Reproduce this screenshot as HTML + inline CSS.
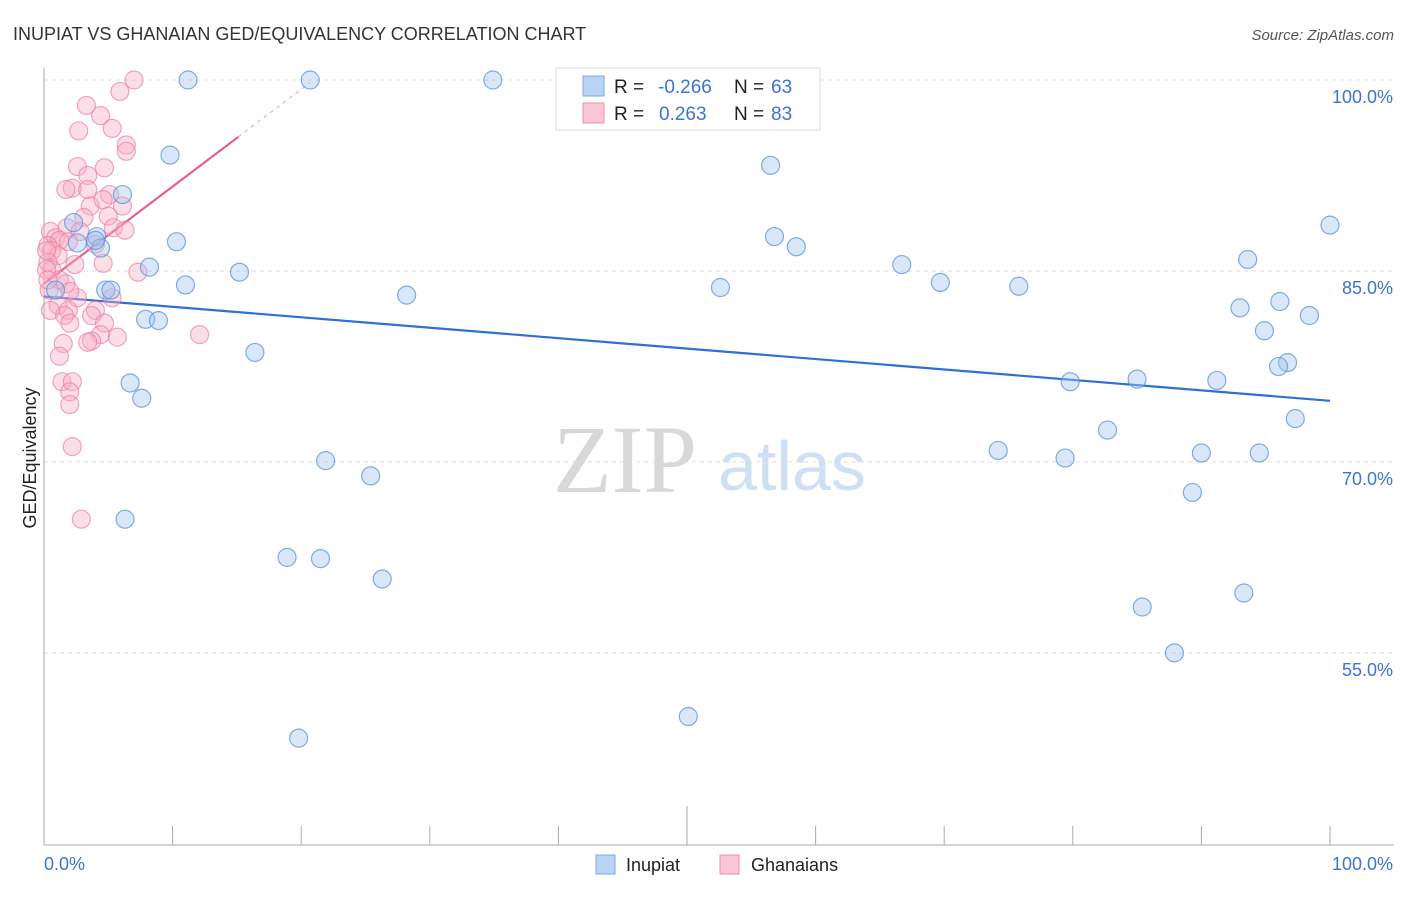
<!DOCTYPE html>
<html><head><meta charset="utf-8"><style>
body{margin:0;background:#fff;font-family:"Liberation Sans",sans-serif}
svg text{font-family:"Liberation Sans",sans-serif}
</style></head><body>
<svg id="chart" width="1406" height="892" viewBox="0 0 1406 892" xmlns="http://www.w3.org/2000/svg">
<text x="13" y="40" font-size="18" fill="#333">INUPIAT VS GHANAIAN GED/EQUIVALENCY CORRELATION CHART</text>
<text x="1394" y="40" font-size="15" fill="#555" font-style="italic" text-anchor="end">Source: ZipAtlas.com</text>
<g>
<text x="553" y="492" font-size="96" fill="#d8d8d8" style="font-family:'Liberation Serif',serif">ZIP</text>
<text x="718" y="490" font-size="70" fill="#cfe0f5">atlas</text>
</g>
<g id="grid"></g>
<g id="axes"></g>
<text x="36" y="458" font-size="18" fill="#222" transform="rotate(-90 36 458)" text-anchor="middle">GED/Equivalency</text>
<g id="trend"></g>
<g id="points"></g>
<g>
<rect x="556" y="68" width="264" height="62" fill="#fff" stroke="#ddd"/>
<rect x="583" y="76" width="21" height="20" fill="#b9d3f5" stroke="#7aa8e6"/>
<text x="614" y="93" font-size="19" fill="#222">R = </text>
<text x="658" y="93" font-size="19" fill="#3b74d4">-0.266</text>
<text x="734" y="93" font-size="19" fill="#222">N = </text>
<text x="771" y="93" font-size="19" fill="#3b74d4">63</text>
<rect x="583" y="103" width="21" height="20" fill="#f9c6d5" stroke="#ee8fae"/>
<text x="614" y="120" font-size="19" fill="#222">R = </text>
<text x="659" y="120" font-size="19" fill="#3b74d4">0.263</text>
<text x="734" y="120" font-size="19" fill="#222">N = </text>
<text x="771" y="120" font-size="19" fill="#3b74d4">83</text>
</g>
<g>
<rect x="596" y="855" width="19" height="19" fill="#b9d3f5" stroke="#7aa8e6"/>
<text x="626" y="871" font-size="18" fill="#222">Inupiat</text>
<rect x="720" y="855" width="19" height="19" fill="#f9c6d5" stroke="#ee8fae"/>
<text x="751" y="871" font-size="18" fill="#222">Ghanaians</text>
</g>
</svg>
<script>
const yTicks=[100,85,70,55];
const yTickLabels=["100.0%","85.0%","70.0%","55.0%"];
const xTickLabels=["0.0%","100.0%"];
const inupiatX=[11.2,20.7,34.9,47.1,9.8,56.5,6.1,2.3,4.1,4.4,2.6,10.3,56.8,58.5,8.2,15.2,66.7,93.6,100,11.0,4.8,5.2,52.6,69.7,75.8,28.2,7.9,8.9,93.0,96.1,98.4,94.9,16.4,96.7,96.0,6.7,7.6,79.8,85.0,91.2,97.3,82.7,21.9,25.4,74.2,79.4,90.0,94.5,89.3,6.3,18.9,21.5,26.3,85.4,93.3,87.9,50.1,19.8,0.9,4.0];
const inupiatY=[100,100,100,100,94.1,93.3,91.0,88.8,87.7,86.8,87.2,87.3,87.7,86.9,85.3,84.9,85.5,85.9,88.6,83.9,83.5,83.5,83.7,84.1,83.8,83.1,81.2,81.1,82.1,82.6,81.5,80.3,78.6,77.8,77.5,76.2,75.0,76.3,76.5,76.4,73.4,72.5,70.1,68.9,70.9,70.3,70.7,70.7,67.6,65.5,62.5,62.4,60.8,58.6,59.7,55.0,50.0,48.3,83.5,87.4];
const ghanaX=[7.0,5.9,3.3,4.4,5.3,2.7,6.4,6.4,2.6,4.7,3.4,2.2,1.7,3.4,5.1,6.1,3.6,4.6,5.0,3.1,1.8,5.4,6.3,2.8,0.5,0.9,1.2,0.3,0.6,1.9,4.0,1.1,0.3,2.4,4.6,7.3,0.6,1.2,1.7,0.4,2.6,2.0,5.3,1.1,1.9,4.0,0.5,1.6,3.7,2.0,4.7,4.4,5.7,3.7,12.1,1.5,3.4,1.2,1.4,2.2,2.0,2.0,2.2,2.9,0.2,0.2,0.3];
const ghanaY=[100,99.1,98.0,97.2,96.2,96.0,94.9,94.4,93.2,93.1,92.5,91.5,91.4,91.4,91.0,90.1,90.1,90.6,89.3,89.2,88.4,88.4,88.2,88.1,88.1,87.6,87.4,87.0,86.6,87.3,87.1,86.2,85.7,85.5,85.6,84.9,85.1,84.3,84.0,83.5,82.9,83.4,82.9,82.3,81.9,81.9,81.9,81.5,81.5,80.9,80.9,80.0,79.8,79.5,80.0,79.3,79.4,78.3,76.3,76.3,75.5,74.5,71.2,65.5,85.1,86.6,84.3];
const inupiatTrend=[83.0,74.8];
const ghanaTrend=[84.0,99.8];
const NS="http://www.w3.org/2000/svg";
const xs=v=>44+v*12.86;
const ys=v=>80+(100-v)*12.73;
function mk(tag,attrs,parent){const e=document.createElementNS(NS,tag);for(const k in attrs)e.setAttribute(k,attrs[k]);parent.appendChild(e);return e;}
const grid=document.getElementById('grid'),axes=document.getElementById('axes'),trend=document.getElementById('trend'),pts=document.getElementById('points');
yTicks.forEach((t,i)=>{
 const l=mk('line',{x1:44,x2:1394,y1:ys(t),y2:ys(t),stroke:'#ddd','stroke-dasharray':'4,4'},grid);
 
 
 const tx=mk('text',{x:1393,y:ys(t)+23,'font-size':18,fill:'#3b74d4','text-anchor':'end'},grid);
 tx.textContent=yTickLabels[i];
 
 
});
const la=mk('line',{x1:44,x2:44,y1:68,y2:845,stroke:'#aaa'},axes);


const lb=mk('line',{x1:44,x2:1394,y1:845,y2:845,stroke:'#aaa'},axes);


for(let i=0;i<=10;i++){
 const t=mk('line',{x1:xs(i*10),x2:xs(i*10),y1:(i==5?806:826),y2:845,stroke:'#aaa'},axes);
 
 
}
[0,100].forEach((v,i)=>{
 const t=mk('text',{x:i?1393:44,y:870,'font-size':18,fill:'#3b74d4','text-anchor':i?'end':'start'},axes);
 t.textContent=xTickLabels[i];
 
 
});
const bt=mk('line',{x1:xs(0),y1:ys(inupiatTrend[0]),x2:xs(100),y2:ys(inupiatTrend[1]),stroke:'#2f6fd6','stroke-width':2.2},trend);


const slope=(ghanaTrend[1]-ghanaTrend[0])/20.7;
const pt=mk('line',{x1:xs(0),y1:ys(ghanaTrend[0]),x2:xs(15.1),y2:ys(ghanaTrend[0]+slope*15.1),stroke:'#e8608a','stroke-width':2.2},trend);


const pd=mk('line',{x1:xs(15.1),y1:ys(ghanaTrend[0]+slope*15.1),x2:xs(20.7),y2:ys(ghanaTrend[1]),stroke:'#f0a0b8','stroke-width':1,'stroke-dasharray':'4,4'},trend);


ghanaX.forEach((x,i)=>{
 const c=mk('circle',{cx:xs(x),cy:ys(ghanaY[i]),r:9,fill:'rgba(247,172,196,0.4)',stroke:'rgba(236,128,163,0.7)','stroke-width':1.2},pts);
 
 
});
inupiatX.forEach((x,i)=>{
 const c=mk('circle',{cx:xs(x),cy:ys(inupiatY[i]),r:9,fill:'rgba(160,196,240,0.4)',stroke:'rgba(90,145,220,0.75)','stroke-width':1.2},pts);
 
 
});
</script>
</body></html>
